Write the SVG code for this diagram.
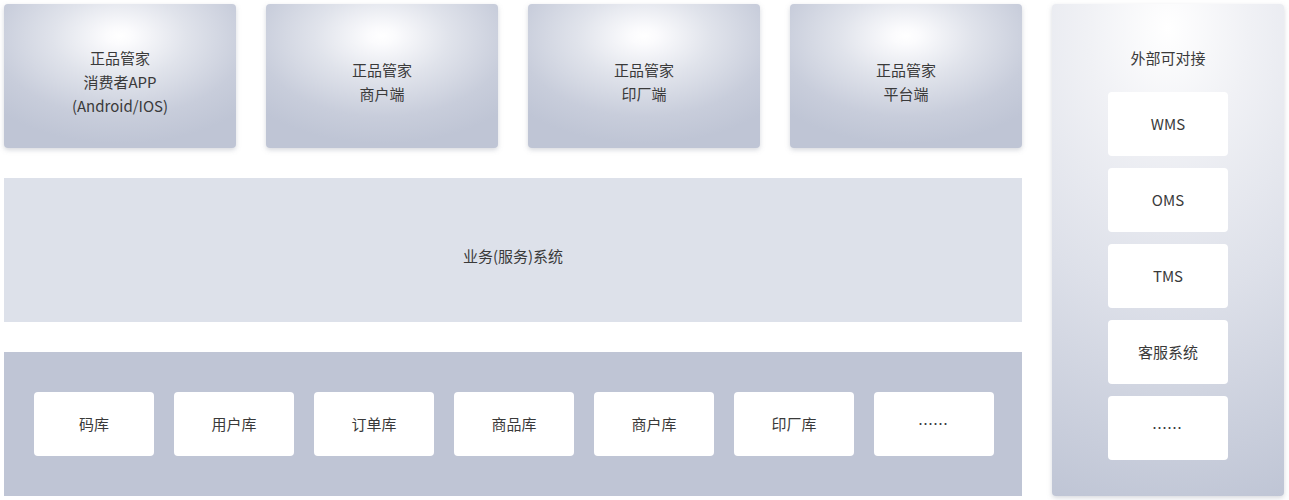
<svg xmlns="http://www.w3.org/2000/svg" width="1289" height="500" viewBox="0 0 1289 500">
<style>
  text { font-family: "Noto Sans CJK SC", "Noto Sans", sans-serif; font-size: 15px; fill: #3a3a3a; text-anchor: middle; dominant-baseline: central; }
  .top { fill: url(#topGrad); filter: url(#shadow); }
  .white { fill: #ffffff; }
</style>
<defs>
  <radialGradient id="topGrad" cx="0.5" cy="0.25" r="0.72" fx="0.5" fy="0.22" gradientUnits="objectBoundingBox">
    <stop offset="0" stop-color="#ffffff"/>
    <stop offset="0.08" stop-color="#fbfbfd"/>
    <stop offset="0.4" stop-color="#e0e3eb"/>
    <stop offset="0.75" stop-color="#c8cddb"/>
    <stop offset="1" stop-color="#bfc5d5"/>
  </radialGradient>
  <radialGradient id="sideGrad" cx="0.5" cy="0.05" r="1" gradientUnits="objectBoundingBox" gradientTransform="translate(0.5 0.05) scale(1.6 1) translate(-0.5 -0.05)">
    <stop offset="0" stop-color="#ffffff"/>
    <stop offset="0.22" stop-color="#f0f1f5"/>
    <stop offset="0.55" stop-color="#dde0e9"/>
    <stop offset="1" stop-color="#bfc5d5"/>
  </radialGradient>
  <filter id="shadow" x="-10%" y="-10%" width="120%" height="130%">
    <feDropShadow dx="0" dy="2" stdDeviation="2.5" flood-color="#8a90a0" flood-opacity="0.35"/>
  </filter>
</defs>

<g id="app">
  <rect class="top" x="4" y="4" width="232" height="144" rx="4"/>
  <text x="120" y="57">正品管家</text>
  <text x="120" y="81">消费者APP</text>
  <text x="120" y="105">(Android/IOS)</text>
</g>
<g id="merchant">
  <rect class="top" x="266" y="4" width="232" height="144" rx="4"/>
  <text x="382" y="69">正品管家</text>
  <text x="382" y="93">商户端</text>
</g>
<g id="printer">
  <rect class="top" x="528" y="4" width="232" height="144" rx="4"/>
  <text x="644" y="69">正品管家</text>
  <text x="644" y="93">印厂端</text>
</g>
<g id="platform">
  <rect class="top" x="790" y="4" width="232" height="144" rx="4"/>
  <text x="906" y="69">正品管家</text>
  <text x="906" y="93">平台端</text>
</g>

<g id="business">
  <rect x="4" y="178" width="1018" height="144" fill="#dde1ea"/>
  <text x="513" y="255">业务(服务)系统</text>
</g>

<g id="data">
  <rect x="4" y="352" width="1018" height="144" fill="#bfc5d5"/>
  <g id="db-code"><rect class="white" x="34" y="392" width="120" height="64" rx="4"/><text x="94" y="423">码库</text></g>
  <g id="db-user"><rect class="white" x="174" y="392" width="120" height="64" rx="4"/><text x="234" y="423">用户库</text></g>
  <g id="db-order"><rect class="white" x="314" y="392" width="120" height="64" rx="4"/><text x="374" y="423">订单库</text></g>
  <g id="db-goods"><rect class="white" x="454" y="392" width="120" height="64" rx="4"/><text x="514" y="423">商品库</text></g>
  <g id="db-merchant"><rect class="white" x="594" y="392" width="120" height="64" rx="4"/><text x="654" y="423">商户库</text></g>
  <g id="db-printer"><rect class="white" x="734" y="392" width="120" height="64" rx="4"/><text x="794" y="423">印厂库</text></g>
  <g id="db-more"><rect class="white" x="874" y="392" width="120" height="64" rx="4"/><text x="933" y="423">……</text></g>
</g>

<g id="external">
  <rect x="1052" y="4" width="232" height="492" rx="4" fill="url(#sideGrad)" filter="url(#shadow)"/>
  <text x="1168" y="57">外部可对接</text>
  <g id="ext-wms"><rect class="white" x="1108" y="92" width="120" height="64" rx="4"/><text x="1168" y="123">WMS</text></g>
  <g id="ext-oms"><rect class="white" x="1108" y="168" width="120" height="64" rx="4"/><text x="1168" y="199">OMS</text></g>
  <g id="ext-tms"><rect class="white" x="1108" y="244" width="120" height="64" rx="4"/><text x="1168" y="275">TMS</text></g>
  <g id="ext-cs"><rect class="white" x="1108" y="320" width="120" height="64" rx="4"/><text x="1168" y="351">客服系统</text></g>
  <g id="ext-more"><rect class="white" x="1108" y="396" width="120" height="64" rx="4"/><text x="1167" y="427">……</text></g>
</g>

<g id="connectors"></g>
</svg>
